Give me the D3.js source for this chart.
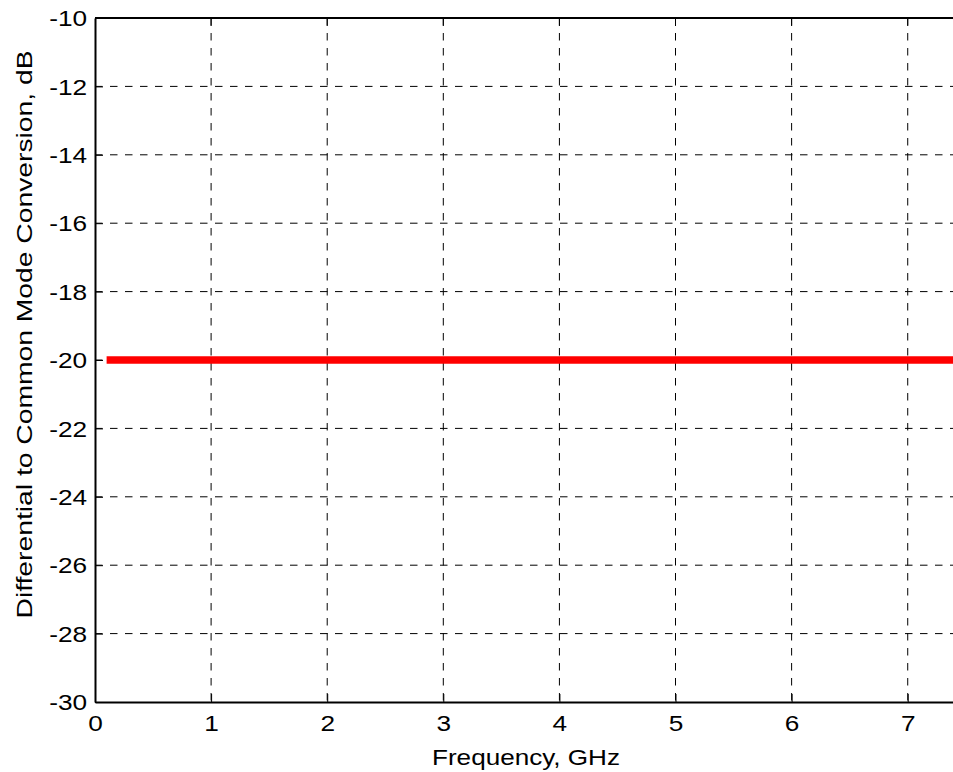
<!DOCTYPE html>
<html>
<head>
<meta charset="utf-8">
<script src="https://cdn.jsdelivr.net/npm/d3@7"></script>
<style>
  html, body { margin: 0; padding: 0; background: #fff; }
  svg { display: block; }
  text { font-family: "Liberation Sans", Arial, sans-serif; fill: #000; }
</style>
</head>
<body>
<svg id="chart" width="953" height="772"></svg>
<script>
// Data
const xTicks = [0, 1, 2, 3, 4, 5, 6, 7];
const yTicks = [-30, -28, -26, -24, -22, -20, -18, -16, -14, -12, -10];
const freqGHz = [0.1, 7.4];
const conversionDb = [-20, -20];
const xLabel = "Frequency, GHz";
const yLabel = "Differential to Common Mode Conversion, dB";

(function () {
const svg = d3.select("#chart");
const pL = 95, pT = 18, pB = 702, pR = 953;
const fs = 21.5, sx = 1.22;

const x = d3.scaleLinear().domain([0, 7.39]).range([pL, pR]);
const y = d3.scaleLinear().domain([-30, -10]).range([pB, pT]);

// grid
const grid = svg.append("g");
grid.selectAll("line.gx").data(xTicks.filter(d => d > 0)).join("line")
  .attr("x1", d => x(d)).attr("x2", d => x(d))
  .attr("y1", pT).attr("y2", pB)
  .attr("stroke", "#000").attr("stroke-width", 1).attr("stroke-dasharray", "7.5,7.5");
grid.selectAll("line.gy").data(yTicks.filter(d => d > -30 && d < -10)).join("line")
  .attr("x1", pL).attr("x2", pR)
  .attr("y1", d => y(d)).attr("y2", d => y(d))
  .attr("stroke", "#000").attr("stroke-width", 1).attr("stroke-dasharray", "7.5,7.5");

// data line
const line = d3.line().x((d, i) => x(freqGHz[i])).y(d => y(d));
svg.append("path").datum(conversionDb)
  .attr("d", line)
  .attr("fill", "none").attr("stroke", "#ff0000").attr("stroke-width", 7.5);

// axes
const fmt = d => String(d);
const xAxis = d3.axisBottom(x).tickValues(xTicks).tickFormat(fmt).tickSizeInner(-8).tickSizeOuter(0).tickPadding(14);
const yAxis = d3.axisLeft(y).tickValues(yTicks).tickFormat(fmt).tickSizeInner(-8).tickSizeOuter(0).tickPadding(0);

const gx = svg.append("g").attr("transform", `translate(0,${pB})`).call(xAxis);
const gy = svg.append("g").attr("transform", `translate(${pL},0)`).call(yAxis);
[gx, gy].forEach(g => {
  g.select(".domain").attr("stroke", "#000").attr("stroke-width", 2);
  g.selectAll(".tick line").attr("stroke", "#000").attr("stroke-width", 1);
  g.selectAll(".tick text").attr("font-size", fs)
    .attr("font-family", "'Liberation Sans', Arial, sans-serif").attr("fill", "#000");
});
gx.selectAll(".tick text").attr("dy", "0.71em").attr("transform", `scale(${sx},1)`);
gy.selectAll(".tick text").attr("x", -6.5).attr("dy", "0.36em").attr("transform", `scale(${sx},1)`);

// top border
svg.append("line").attr("x1", pL).attr("x2", pR).attr("y1", pT).attr("y2", pT)
  .attr("stroke", "#000").attr("stroke-width", 2);
// top ticks
svg.selectAll("line.tt").data(xTicks.filter(d => d > 0)).join("line")
  .attr("x1", d => x(d)).attr("x2", d => x(d)).attr("y1", pT).attr("y2", pT + 8)
  .attr("stroke", "#000");

// labels
svg.append("text").attr("x", 526).attr("y", 765)
  .attr("text-anchor", "middle").attr("font-size", fs)
  .attr("textLength", 188).attr("lengthAdjust", "spacingAndGlyphs").text(xLabel);
svg.append("text").attr("transform", `translate(31.5,334.5) rotate(-90)`)
  .attr("text-anchor", "middle").attr("font-size", fs)
  .attr("textLength", 568).attr("lengthAdjust", "spacingAndGlyphs").text(yLabel);
})();
</script>
</body>
</html>
